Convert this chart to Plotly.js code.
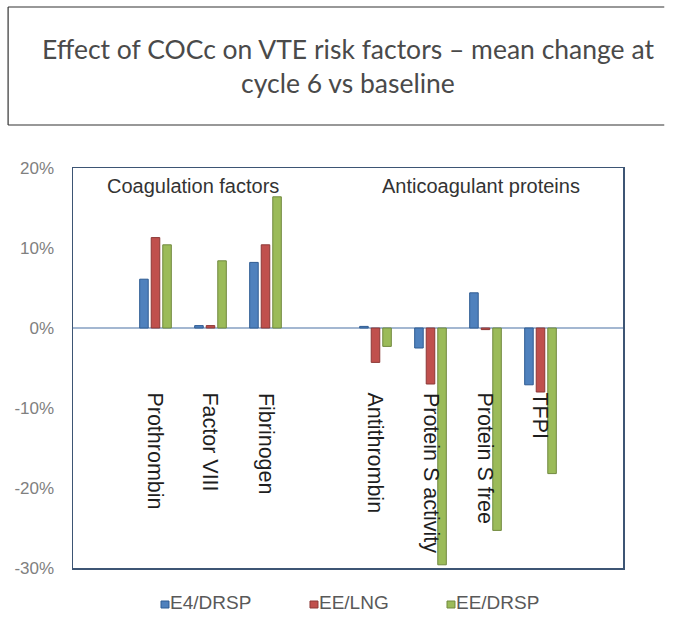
<!DOCTYPE html>
<html>
<head>
<meta charset="utf-8">
<script src="https://cdn.plot.ly/plotly-3.0.1.min.js"></script>
<style>html,body{margin:0;padding:0;background:#fff;}#chart{width:673px;height:617px;}</style>
</head>
<body>
<div id="chart"></div>
<script>
// ---- data (% change at cycle 6 vs baseline) ----
const coagCategories = ['Prothrombin', 'Factor VIII', 'Fibrinogen'];
const anticoagCategories = ['Antithrombin', 'Protein S activity', 'Protein S free', 'TFPI'];
const categories = coagCategories.concat(anticoagCategories);
const seriesNames = ['E4/DRSP', 'EE/LNG', 'EE/DRSP'];
const e4drsp = [6.1, 0.3, 8.2, 0.2, -2.5, 4.4, -7.1];
const eeLng  = [11.3, 0.3, 10.4, -4.3, -7.0, -0.2, -8.0];
const eeDrsp = [10.4, 8.4, 16.4, -2.3, -29.6, -25.3, -18.2];
const groupLabels = ['Coagulation factors', 'Anticoagulant proteins'];
const yTickValues = [-30, -20, -10, 0, 10, 20];
const yTickLabels = ['-30%', '-20%', '-10%', '0%', '10%', '20%'];
const titleText = 'Effect of COCc on VTE risk factors \u2013 mean change at<br>cycle 6 vs baseline';

// ---- styling ----
const FONT = 'Liberation Sans, Arial, sans-serif';
const fills = ['#4f81bd', '#c0504d', '#9bbb59'];
const borders = ['#2f5c93', '#8c3836', '#71893f'];
const seriesValues = [e4drsp, eeLng, eeDrsp];

// axis slot order: empty slot, coagulation group, empty slot, anticoagulant group, empty slot
const slotOrder = ['gap0'].concat(coagCategories, ['gap1'], anticoagCategories, ['gap2']);

const traces = seriesNames.map((name, i) => ({
  type: 'bar',
  name: name,
  x: categories,
  y: seriesValues[i],
  marker: {color: fills[i], line: {color: borders[i], width: 1}},
  hoverinfo: 'x+y+name'
}));

const annotations = [];
const shapes = [];
categories.forEach(c => {
  annotations.push({
    xref: 'x', yref: 'y', x: c, y: -7.8,
    text: c, textangle: 90, showarrow: false,
    xanchor: 'center', yanchor: 'top',
    font: {family: FONT, size: 21.5, color: '#1e1e1e'}
  });
});
const groupLabelX = [0.2173, 0.7427];
groupLabels.forEach((g, i) => {
  annotations.push({
    xref: 'paper', yref: 'paper', x: groupLabelX[i], y: 0.955, text: g,
    showarrow: false, xanchor: 'center', yanchor: 'middle',
    font: {family: FONT, size: 20, color: '#333'}
  });
});

// custom legend (small square directly next to the name, like the reference)
const legendSquareX = [0.16, 0.4309, 0.68];
const legendSquareW = 0.0145;
seriesNames.forEach((name, i) => {
  shapes.push({
    type: 'rect', xref: 'paper', yref: 'paper',
    x0: legendSquareX[i], x1: legendSquareX[i] + legendSquareW,
    y0: -0.1, y1: -0.0825,
    fillcolor: fills[i], line: {color: borders[i], width: 1}
  });
  annotations.push({
    xref: 'paper', yref: 'paper', x: legendSquareX[i] + legendSquareW - 0.002, y: -0.086,
    text: name, showarrow: false, xanchor: 'left', yanchor: 'middle',
    font: {family: FONT, size: 19, color: '#595959'}
  });
});

// title frame: top, bottom and left edges only (open towards the right edge of the picture)
const frameLine = {color: '#333', width: 1.2};
const frameRight = 1.075;
shapes.push({type: 'line', xref: 'paper', yref: 'paper', x0: -0.118, x1: frameRight, y0: 1.4025, y1: 1.4025, line: frameLine});
shapes.push({type: 'line', xref: 'paper', yref: 'paper', x0: -0.118, x1: frameRight, y0: 1.1075, y1: 1.1075, line: frameLine});
shapes.push({type: 'line', xref: 'paper', yref: 'paper', x0: -0.118, x1: -0.118, y0: 1.1075, y1: 1.4025, line: frameLine});

const layout = {
  width: 673, height: 617,
  margin: {l: 73, r: 50, t: 168, b: 49, autoexpand: false},
  paper_bgcolor: '#fff', plot_bgcolor: '#fff',
  barmode: 'group', bargap: 0.37, bargroupgap: 0.26,
  showlegend: false,
  title: {
    text: titleText, xref: 'container', yref: 'container',
    x: 0.517, y: 0.905, xanchor: 'center', yanchor: 'middle',
    font: {family: 'Lato, sans-serif', size: 26.5, color: '#4a4a4a'}
  },
  xaxis: {
    type: 'category', categoryorder: 'array', categoryarray: slotOrder,
    range: [-0.5, slotOrder.length - 0.5],
    showticklabels: false, ticks: '', showgrid: false, zeroline: false,
    showline: true, mirror: true, linecolor: '#3d5574', linewidth: 1.5, fixedrange: true
  },
  yaxis: {
    range: [-30, 20], tickmode: 'array', tickvals: yTickValues, ticktext: yTickLabels,
    showgrid: false, zeroline: true, zerolinecolor: '#a3b7d1', zerolinewidth: 2,
    showline: true, mirror: true, linecolor: '#3d5574', linewidth: 1.5,
    ticks: '', ticklabelstandoff: 14,
    tickfont: {family: FONT, size: 17, color: '#808080'},
    fixedrange: true
  },
  annotations: annotations,
  shapes: shapes
};

Plotly.newPlot('chart', traces, layout, {displayModeBar: false, staticPlot: true});
</script>
</body>
</html>
